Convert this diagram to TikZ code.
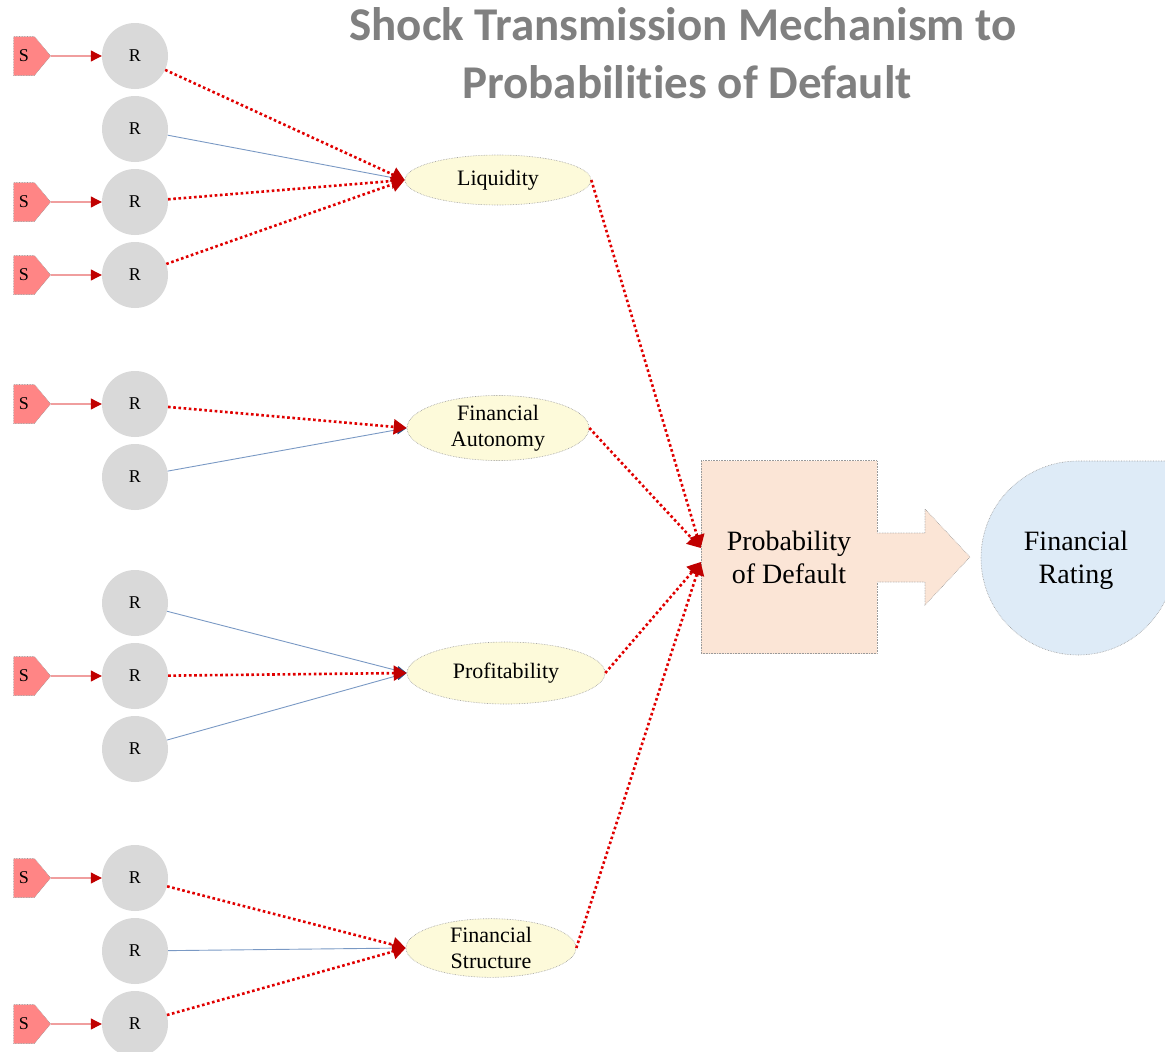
\documentclass[tikz,border=0pt]{standalone}
\usepackage{fontspec}
\setmainfont{Liberation Serif}
\newfontfamily\titlefont[Ligatures=NoCommon]{Carlito}
\usetikzlibrary{arrows.meta,positioning,shapes.geometric,shapes.symbols}

\definecolor{shockfill}{HTML}{FF8585}
\definecolor{ratiofill}{HTML}{D9D9D9}
\definecolor{driverfill}{HTML}{FDFADA}
\definecolor{pdfill}{HTML}{FBE5D6}
\definecolor{ratingfill}{HTML}{DEEBF7}
\definecolor{linkred}{HTML}{E00000}
\definecolor{tipred}{HTML}{C00000}
\definecolor{shockline}{HTML}{E86A6A}
\definecolor{linkblue}{HTML}{7A99C4}
\definecolor{tipblue}{HTML}{2F4F7F}
\definecolor{edgegray}{HTML}{9A9A9A}
\definecolor{titlegray}{HTML}{808080}

\tikzset{
  shock/.style={signal, signal to=east, signal pointer angle=100, fill=shockfill,
    draw=edgegray, densely dotted, line width=0.6pt, minimum width=37pt,
    minimum height=39pt, inner xsep=2pt, font=\fontsize{18}{20}\selectfont},
  ratio/.style={circle, fill=ratiofill, minimum size=66pt, inner sep=0pt,
    font=\fontsize{18}{20}\selectfont},
  driver/.style={ellipse, fill=driverfill, draw=edgegray, densely dotted,
    line width=0.6pt, inner sep=0pt, align=center, font=\fontsize{22}{26}\selectfont},
  shocklink/.style={draw=shockline, line width=1.1pt,
    -{Triangle[length=11pt,width=11pt,color=tipred]}},
  redlink/.style={draw=linkred, line width=2.6pt, dash pattern=on 2.6pt off 2.6pt,
    -{Triangle[length=13pt,width=15pt,color=tipred]}},
  bluelink/.style={draw=linkblue, line width=0.9pt,
    -{Triangle[length=10pt,width=9pt,color=tipblue]}},
  titletext/.style={font=\titlefont\bfseries\fontsize{47}{58}\selectfont,
    text=titlegray, inner sep=0pt}
}

\begin{document}
\begin{tikzpicture}[x=1pt, y=-1pt, >=Stealth]
    % Page frame (pixel grid of the reference)
    \useasboundingbox (0,0) rectangle (1165,1052);
    \clip (0,0) rectangle (1165,1052);

    % Title
    \node[titletext, anchor=base] (title1) at (683,40) {Shock Transmission Mechanism to};
    \node[titletext, anchor=base] (title2) at (687,98) {Probabilities of Default};

    % Ratios
    \node[ratio] (r1) at (135,56) {R};
    \node[ratio] (r2) at (135,129) {R};
    \node[ratio] (r3) at (135,202) {R};
    \node[ratio] (r4) at (135,275) {R};
    \node[ratio] (r5) at (135,404) {R};
    \node[ratio] (r6) at (135,477) {R};
    \node[ratio] (r7) at (135,603) {R};
    \node[ratio] (r8) at (135,676) {R};
    \node[ratio] (r9) at (135,749) {R};
    \node[ratio] (r10) at (135,878) {R};
    \node[ratio] (r11) at (135,951) {R};
    \node[ratio] (r12) at (135,1024) {R};

    % Shocks
    \node[shock] (s1) at (24,56) {S};
    \node[shock] (s3) at (24,202) {S};
    \node[shock] (s4) at (24,275) {S};
    \node[shock] (s5) at (24,404) {S};
    \node[shock] (s8) at (24,676) {S};
    \node[shock] (s10) at (24,878) {S};
    \node[shock] (s12) at (24,1024) {S};

    % Drivers
    \node[driver, minimum width=186pt, minimum height=50pt] (liq) at (498,180) {Liquidity};
    \node[driver, minimum width=182pt, minimum height=64pt] (auto) at (498,428) {Financial\\Autonomy};
    \node[driver, minimum width=198pt, minimum height=62pt] (prof) at (506,673) {Profitability};
    \node[driver, minimum width=170pt, minimum height=56pt] (struct) at (491,948) {Financial\\Structure};

    % Probability of default with its block arrow
    \node[rectangle, fill=pdfill, draw=edgegray, densely dotted, line width=0.6pt,
          minimum width=176pt, minimum height=193pt, align=center,
          font=\fontsize{28}{33}\selectfont] (pd) at (789,557) {Probability\\of Default};
    \fill[pdfill] ([xshift=-1pt]pd.east |- 0,533) -- (925,533) -- (925,509) -- (970,557)
        -- (925,605) -- (925,582) -- ([xshift=-1pt]pd.east |- 0,582) -- cycle;
    \draw[edgegray, densely dotted, line width=0.6pt] (pd.east |- 0,533) -- (925,533)
        -- (925,509) -- (970,557) -- (925,605) -- (925,582) -- (pd.east |- 0,582);

    % Financial rating
    \path[fill=ratingfill, draw=edgegray, densely dotted, line width=0.6pt]
        (1078,461) -- (1175,461) -- (1175,558) arc[start angle=0, end angle=270, radius=97] -- cycle;
    \node[align=center, font=\fontsize{28}{33}\selectfont] (rating) at (1076,560) {Financial\\Rating};

    % Shocks hitting ratios
    \draw[shocklink] (s1) -- (r1);
    \draw[shocklink] (s3) -- (r3);
    \draw[shocklink] (s4) -- (r4);
    \draw[shocklink] (s5) -- (r5);
    \draw[shocklink] (s8) -- (r8);
    \draw[shocklink] (s10) -- (r10);
    \draw[shocklink] (s12) -- (r12);

    % Unshocked ratios
    \draw[bluelink] (r2) -- (liq.west);
    \draw[bluelink] (r6) -- (auto.west);
    \draw[bluelink] (r7) -- (prof.west);
    \draw[bluelink] (r9) -- (prof.west);
    \draw[bluelink] (r11) -- (struct.west);

    % Shocked ratios
    \draw[redlink] (r1) -- (liq.west);
    \draw[redlink] (r3) -- (liq.west);
    \draw[redlink] (r4) -- (liq.west);
    \draw[redlink] (r5) -- (auto.west);
    \draw[redlink] (r8) -- (prof.west);
    \draw[redlink] (r10) -- (struct.west);
    \draw[redlink] (r12) -- (struct.west);

    % Drivers into the probability of default
    \draw[redlink] (liq.east) -- ([yshift=9pt]pd.west);
    \draw[redlink] (auto.east) -- ([yshift=9pt]pd.west);
    \draw[redlink] (prof.east) -- ([yshift=-5pt]pd.west);
    \draw[redlink] (struct.east) -- ([yshift=-5pt]pd.west);
\end{tikzpicture}
\end{document}
